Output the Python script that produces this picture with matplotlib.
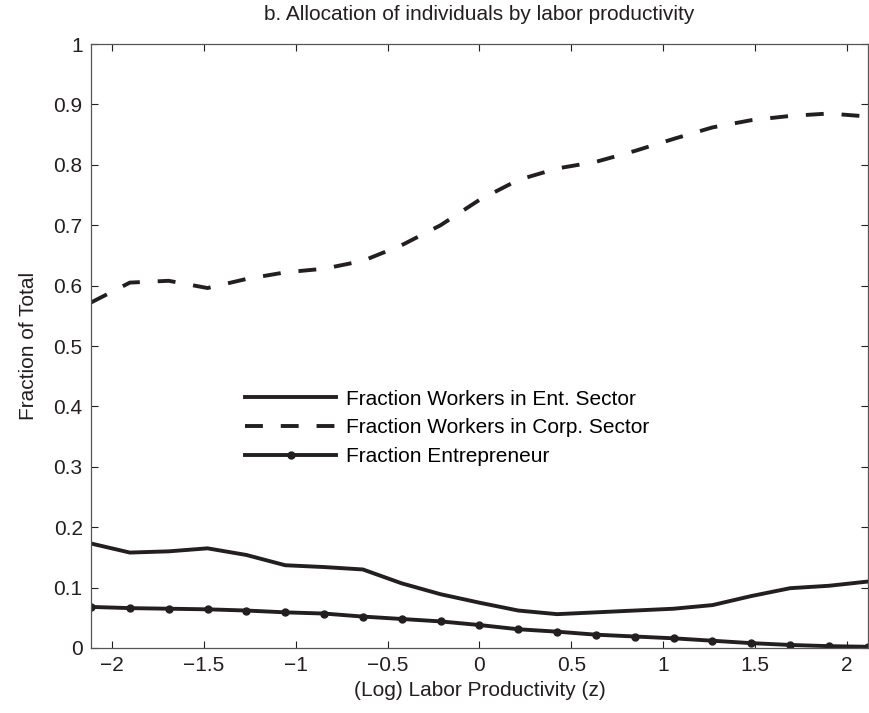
import numpy as np
import matplotlib.pyplot as plt

# grid of (log) labor productivity
z = np.linspace(-2.115, 2.115, 21)

# fraction of workers employed in the entrepreneurial sector
ent_workers = [0.173, 0.158, 0.160, 0.165, 0.154, 0.137, 0.134, 0.130, 0.107, 0.089, 0.075,
               0.062, 0.056, 0.059, 0.062, 0.065, 0.071, 0.086, 0.099, 0.103, 0.110]
# fraction of workers employed in the corporate sector
corp_workers = [0.572, 0.605, 0.608, 0.596, 0.611, 0.622, 0.628, 0.641, 0.667, 0.700, 0.742,
                0.775, 0.794, 0.805, 0.823, 0.843, 0.862, 0.874, 0.881, 0.885, 0.880]
# fraction entrepreneurs
entrepreneurs = [0.068, 0.066, 0.065, 0.064, 0.062, 0.059, 0.057, 0.052, 0.048, 0.044, 0.038,
                 0.031, 0.027, 0.022, 0.019, 0.016, 0.012, 0.008, 0.005, 0.003, 0.002]

col = '#231f20'
fs = 15
plt.rcParams['font.family'] = ['Liberation Sans', 'DejaVu Sans']

fig = plt.figure(figsize=(8.69, 7.13), dpi=100)
ax = fig.add_axes([0.1047, 0.0912, 0.894, 0.847])

ax.plot(z, ent_workers, color=col, lw=2.8, label='Fraction Workers in Ent. Sector')
ax.plot(z, corp_workers, color=col, lw=2.8, linestyle=(0, (4.6, 4.6)),
        label='Fraction Workers in Corp. Sector')
ax.plot(z, entrepreneurs, color=col, lw=2.8, marker='o', markersize=5,
        label='Fraction Entrepreneur')

ax.set_xlim(-2.115, 2.115)
ax.set_ylim(0, 1)
ax.set_xticks(np.arange(-2, 2.01, 0.5))
ax.set_xticklabels(['\u22122', '\u22121.5', '\u22121', '\u22120.5', '0', '0.5', '1', '1.5', '2'])
ax.set_yticks(np.arange(0, 1.01, 0.1))
ax.set_yticklabels(['0', '0.1', '0.2', '0.3', '0.4', '0.5', '0.6', '0.7', '0.8', '0.9', '1'])
ax.tick_params(direction='in', top=True, right=True, length=5, width=0.8,
               labelsize=fs, colors=col, pad=6)
for s in ax.spines.values():
    s.set_linewidth(0.9)
    s.set_color('#555555')

ax.set_xlabel('(Log) Labor Productivity (z)', fontsize=fs, color=col, labelpad=4)
ax.set_ylabel('Fraction of Total', fontsize=fs, color=col, labelpad=11)
ax.set_title('b. Allocation of individuals by labor productivity', fontsize=fs,
             color=col, pad=17)

ax.legend(loc='upper left', bbox_to_anchor=(0.198, 0.428), frameon=False,
          fontsize=fs, handlelength=4.4, handletextpad=0.48, labelspacing=0.47,
          borderpad=0, borderaxespad=0)

fig.savefig('out.png', dpi=100)
